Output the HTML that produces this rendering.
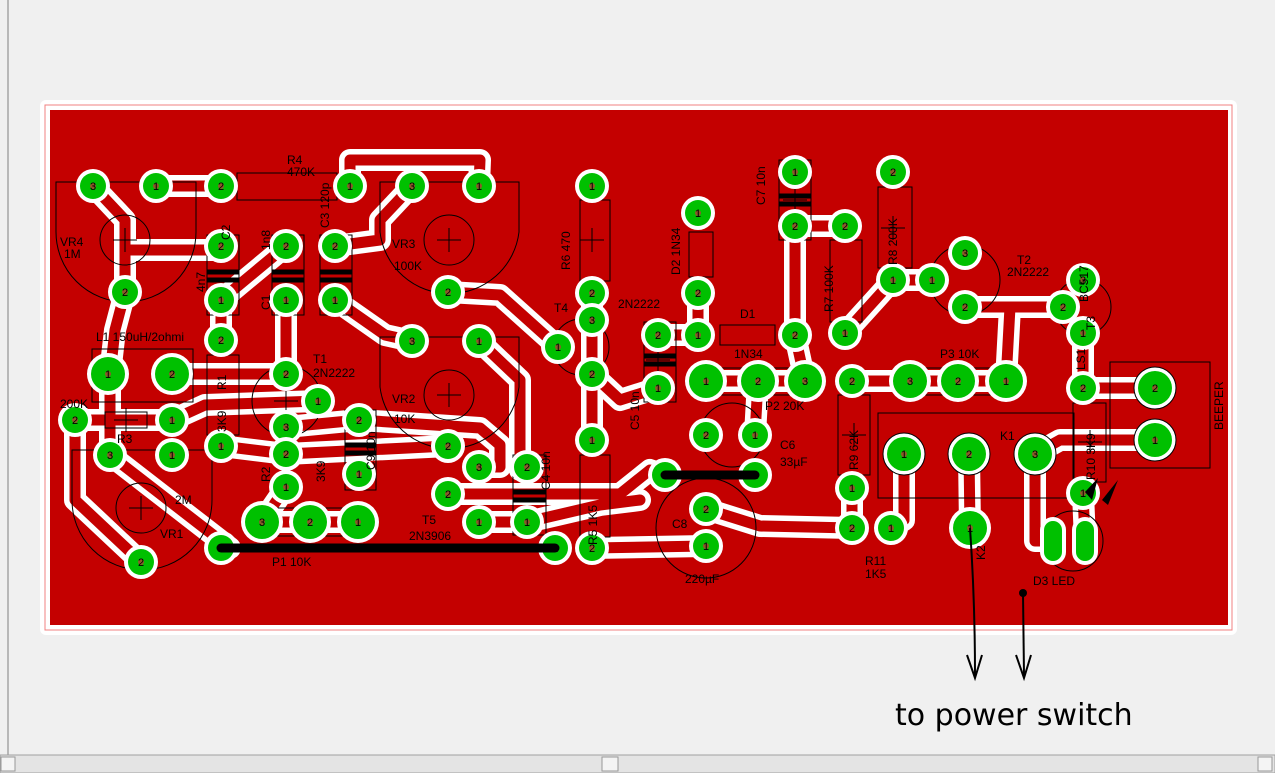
<!DOCTYPE html>
<html><head><meta charset="utf-8"><style>
html,body{margin:0;padding:0;width:1275px;height:773px;overflow:hidden;background:#f0f0f0;font-family:"Liberation Sans",sans-serif}
svg{position:absolute;left:0;top:0}
</style></head><body>
<svg id="s" width="1275" height="773" viewBox="0 0 1275 773" xmlns="http://www.w3.org/2000/svg" font-family="Liberation Sans, sans-serif">
<rect x="0" y="0" width="1275" height="773" fill="#f0f0f0"/>
<line x1="8" y1="0" x2="8" y2="755" stroke="#808080" stroke-width="1"/>
<rect x="0" y="755" width="1275" height="18" fill="#e4e4e4" stroke="#a0a0a0"/>
<rect x="1" y="757" width="14" height="14" fill="#f4f4f4" stroke="#999"/>
<rect x="1258" y="757" width="14" height="14" fill="#f4f4f4" stroke="#999"/>
<rect x="602" y="757" width="16" height="14" fill="#f4f4f4" stroke="#999"/>
<rect x="40" y="100" width="1197" height="535" rx="6" fill="#fff"/>
<rect x="45" y="105" width="1187" height="525" fill="none" stroke="#f08080" stroke-width="1"/>
<rect x="50" y="110" width="1178" height="515" fill="#c40000"/>
<g id="tr" fill="none" stroke-linejoin="round" stroke-linecap="round"></g>
<g id="ol" fill="none" stroke="#000" stroke-width="1"></g>
<g id="pd"></g>
<g id="tx" font-size="12" fill="#000"></g>
<line x1="221" y1="548" x2="555" y2="548" stroke="#000" stroke-width="9" stroke-linecap="round"/>
<line x1="665" y1="475" x2="755" y2="475" stroke="#000" stroke-width="9" stroke-linecap="round"/>
<path d="M970 528 Q975 600 975 675" stroke="#000" stroke-width="2" fill="none"/>
<path d="M967 655 L975 678 L982 655" stroke="#000" stroke-width="2" fill="none"/>
<circle cx="1023" cy="593" r="4" fill="#000"/>
<path d="M1023 593 L1024 675" stroke="#000" stroke-width="2" fill="none"/>
<path d="M1016 655 L1024 678 L1031 655" stroke="#000" stroke-width="2" fill="none"/>
<polygon points="1085,492 1098,478 1092,500" fill="#000"/>
<polygon points="1102,500 1118,480 1108,505" fill="#000"/>
<text x="895" y="725" font-size="30" fill="#000" font-family="DejaVu Sans, sans-serif">to power switch</text>
</svg>
<script>
var NS="http://www.w3.org/2000/svg";
function el(p,n,a,t){var e=document.createElementNS(NS,n);for(var k in a)e.setAttribute(k,a[k]);if(t!==undefined)e.textContent=t;document.getElementById(p).appendChild(e);return e;}
var traces=[
[[93,186],[125,220],[125,292]],[[125,250],[221,250]],[[156,186],[221,186]],[[350,186],[350,160],[480,160],[479,186]],
[[412,186],[380,220],[380,240],[335,246]],[[125,292],[115,330],[110,374],[110,455]],[[221,300],[221,340]],
[[221,300],[286,246]],[[286,300],[286,374]],[[335,300],[385,335],[412,341]],[[448,292],[500,295],[558,347]],
[[479,341],[520,380],[520,470],[527,467]],[[172,374],[286,374]],[[172,420],[205,405],[318,401]],
[[286,427],[359,420],[480,428],[500,445],[500,467],[479,467]],[[221,446],[286,454],[448,446]],
[[110,455],[230,548]],[[75,420],[75,500],[141,562]],[[286,487],[262,522]],[[262,522],[358,522]],
[[448,494],[527,494],[620,494],[650,470],[665,475]],[[479,522],[527,522],[600,505],[640,500]],
[[592,293],[592,440]],[[592,374],[620,400],[658,388]],[[658,335],[698,335]],[[698,293],[698,335]],
[[795,226],[795,335],[805,381]],[[795,226],[845,226]],[[845,333],[893,280],[932,280]],
[[965,307],[1063,307]],[[1010,307],[1006,381]],[[1083,333],[1083,388],[1155,388]],[[852,381],[910,381]],
[[706,381],[805,381]],[[755,435],[758,381]],[[852,488],[852,528]],[[706,509],[760,526],[852,528]],
[[592,548],[706,546]],[[904,454],[904,520],[891,528]],[[969,454],[970,528]],[[1035,454],[1035,541],[1053,541]],
[[1083,493],[1085,541]],[[1155,440],[1060,440],[1035,454]],[[75,420],[172,420]],[[910,381],[1006,381]]
];
traces.forEach(function(t){var d="M"+t.map(function(p){return p.join(" ")}).join(" L");
el("tr","path",{d:d,stroke:"#fff","stroke-width":22});});
traces.forEach(function(t){var d="M"+t.map(function(p){return p.join(" ")}).join(" L");
el("tr","path",{d:d,stroke:"#c40000","stroke-width":11});});
var rects=[[237,173,100,27],[207,235,32,80],[272,235,32,80],[320,235,32,80],[207,355,32,80],[92,349,101,53],
[105,412,42,16],[345,410,31,80],[513,455,33,80],[260,508,103,28],[580,200,30,81],[644,322,32,80],
[689,232,24,45],[720,325,55,20],[779,160,32,80],[830,240,32,82],[878,187,34,81],[705,368,103,27],
[908,368,102,27],[838,395,32,80],[580,455,30,82],[878,413,196,85],[1073,403,33,79],[1110,362,100,106]];
rects.forEach(function(r){el("ol","rect",{x:r[0],y:r[1],width:r[2],height:r[3]});});
[[56,182,140,0],[380,182,139,0],[380,337,139,0],[72,450,140,0]].forEach(function(v){
el("ol","path",{d:"M"+v[0]+" "+v[1]+" h"+v[2]+" v50 a70 70 0 0 1 -"+v[2]+" 0 z"});});
[[125,240,25],[449,240,25],[141,508,25],[449,395,25],[287,401,35],[581,347,28],[965,280,35],[1083,307,28],[732,435,32],[706,528,50],[1073,541,30]].forEach(function(c){el("ol","circle",{cx:c[0],cy:c[1],r:c[2]});});
[[221,186],[286,246],[335,246],[221,246],[286,401],[592,240],[658,360],[795,200],[893,228],[449,240],[125,240],[449,395],[141,508],[126,420],[310,522],[756,381],[958,381],[854,435],[1090,442]].forEach(function(c){
el("ol","path",{d:"M"+(c[0]-12)+" "+c[1]+"h24M"+c[0]+" "+(c[1]-12)+"v24"});});
[[207,270,32],[207,278,32],[272,270,32],[272,278,32],[320,270,32],[320,278,32],[345,443,31],[345,451,31],[513,490,33],[513,498,33],[644,354,32],[644,362,32],[779,194,32],[779,202,32]].forEach(function(b){
el("ol","rect",{x:b[0],y:b[1],width:b[2],height:4,fill:"#000"});});
var pads=[
[93,186,3],[156,186,1],[221,186,2],[350,186,1],[412,186,3],[479,186,1],[125,292,2],[221,246,2],[221,300,1],
[286,246,2],[286,300,1],[335,246,2],[335,300,1],[448,292,2],[221,340,2],[108,374,1,1],[172,374,2,1],
[286,374,2],[318,401,1],[286,427,3],[286,454,2],[75,420,2],[172,420,1],[110,455,3],[172,455,1],[141,562,2],
[221,446,1],[359,420,2],[359,474,1],[412,341,3],[479,341,1],[448,446,2],[479,467,3],[448,494,2],[479,522,1],
[527,467,2],[527,522,1],[286,487,1],[262,522,3,1],[310,522,2,1],[358,522,1,1],[221,548,1],[555,548,1],
[592,186,1],[592,293,2],[592,320,3],[558,347,1],[592,374,2],[658,335,2],[658,388,1],[698,213,1],[698,293,2],
[698,335,1],[795,335,2],[795,172,1],[795,226,2],[845,226,2],[845,333,1],[893,172,2],[893,280,1],[932,280,1],
[965,253,3],[965,307,2],[1083,280,3],[1063,307,2],[1083,333,1],[1083,388,2],[1155,388,2,2],[1155,440,1,2],
[706,381,1,1],[758,381,2,1],[805,381,3,1],[852,381,2],[910,381,3,1],[958,381,2,1],[1006,381,1,1],
[852,488,1],[852,528,2],[706,435,2],[755,435,1],[665,475,1],[755,475,1],[706,509,2],[706,546,1],
[592,440,1],[592,548,2],[904,454,1,2],[969,454,2,2],[1035,454,3,2],[891,528,1],[970,528,1,1],[1083,493,1]];
pads.forEach(function(p){var big=p[3]||0;var rw=big?21:17,rg=big?17:13;
el("pd","circle",{cx:p[0],cy:p[1],r:rw,fill:"#fff"});
if(big==2)el("pd","circle",{cx:p[0],cy:p[1],r:rw,fill:"none",stroke:"#000"});
el("pd","circle",{cx:p[0],cy:p[1],r:rg,fill:"#00c000"});
el("pd","circle",{cx:p[0],cy:p[1],r:3,fill:"#8a5a2a"});
el("pd","text",{x:p[0],y:p[1]+4,"font-size":11,"text-anchor":"middle",fill:"#000"},String(p[2]));});
[[1053,541],[1085,541]].forEach(function(c){el("pd","rect",{x:c[0]-13,y:c[1]-24,width:26,height:48,rx:13,fill:"#fff"});
el("pd","rect",{x:c[0]-9,y:c[1]-20,width:18,height:40,rx:9,fill:"#00c000"});});
var T=[[287,164,"R4"],[287,176,"470K"],[60,246,"VR4"],[64,258,"1M"],[392,248,"VR3"],[394,270,"100K"],
[96,341,"L1 150uH/2ohmi"],[313,363,"T1"],[313,377,"2N2222"],[60,408,"200K"],[117,443,"R3"],[392,403,"VR2"],
[394,423,"10K"],[175,504,"2M"],[160,538,"VR1"],[272,566,"P1  10K"],[422,524,"T5"],[409,540,"2N3906"],
[554,312,"T4"],[618,308,"2N2222"],[740,318,"D1"],[734,358,"1N34"],[765,410,"P2  20K"],[940,358,"P3  10K"],
[1017,264,"T2"],[1007,276,"2N2222"],[780,449,"C6"],[780,466,"33µF"],[1000,440,"K1"],[865,565,"R11"],
[865,578,"1K5"],[685,583,"220µF"],[672,528,"C8"],[1033,585,"D3  LED"]];
T.forEach(function(t){el("tx","text",{x:t[0],y:t[1]},t[2]);});
var R=[[230,240,"C2"],[329,228,"C3 120p"],[205,292,"4n7"],[270,250,"1n8"],[270,310,"C1"],[226,390,"R1"],
[226,432,"3K9"],[270,482,"R2"],[325,482,"3K9"],[375,470,"C9 10n"],[550,490,"C4 10n"],[570,270,"R6 470"],
[680,275,"D2 1N34"],[765,205,"C7 10n"],[833,312,"R7 100K"],[897,265,"R8 200K"],[639,430,"C5 10n"],
[858,470,"R9 62K"],[1095,480,"R10 3K9"],[597,545,"R5 1K5"],[1095,330,"T3"],[1088,302,"BC517"],[1085,370,"LS1"],
[1223,430,"BEEPER"],[985,560,"K2"]];
R.forEach(function(t){el("tx","text",{x:t[0],y:t[1],transform:"rotate(-90 "+t[0]+" "+t[1]+")"},t[2]);});
</script>
</body></html>
